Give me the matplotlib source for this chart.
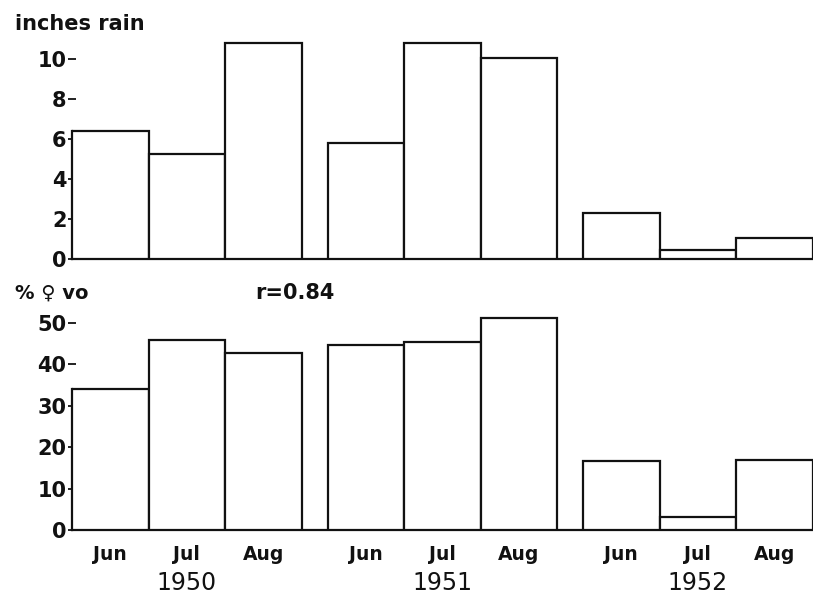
import matplotlib
matplotlib.use("Agg")
from matplotlib import pyplot as plt
import numpy as np

years = ["1950", "1951", "1952"]
months = ["Jun", "Jul", "Aug"]
rain = [6.4, 5.25, 10.8, 5.8, 10.8, 10.05, 2.3, 0.45, 1.05]
pct_female = [34, 46, 42.7, 44.7, 45.4, 51.2, 16.7, 3.1, 16.9]

ink = "#111111"
plt.rcParams["font.family"] = ["DejaVu Sans"]
plt.rcParams["text.color"] = ink

fig = plt.figure(figsize=(8.13, 5.98), dpi=100)

# bar layout in pixel-like units: 76.5 per bar, 255.5 per year group
bw = 76.5
gstep = 255.5
lefts = np.array([g * gstep + i * bw for g in range(len(years)) for i in range(len(months))])
centers = lefts + bw / 2

ax1 = fig.add_axes([72 / 813, 1 - 259 / 598, 741 / 813, 220 / 598])
ax2 = fig.add_axes([72 / 813, 1 - 530 / 598, 741 / 813, 215.3 / 598])

for ax, vals, top, ticks in [(ax1, rain, 11, [0, 2, 4, 6, 8, 10]),
                             (ax2, pct_female, 52, [0, 10, 20, 30, 40, 50])]:
    ax.bar(lefts, vals, width=bw, align="edge", color="white",
           edgecolor=ink, linewidth=1.6, zorder=3)
    ax.set_xlim(0, 741)
    ax.set_ylim(0, top)
    ax.set_yticks(ticks)
    ax.tick_params(axis="y", direction="inout", length=6, width=1.3,
                   pad=1, labelsize=15, colors=ink)
    for lab in ax.get_yticklabels():
        lab.set_fontweight("bold")
    for s in ["top", "right"]:
        ax.spines[s].set_visible(False)
    ax.spines["left"].set_bounds(0, vals[0])
    ax.spines["left"].set_linewidth(1.6)
    ax.spines["bottom"].set_linewidth(1.6)
    ax.spines["left"].set_color(ink)
    ax.spines["bottom"].set_color(ink)

ax1.set_xticks([])
ax2.set_xticks(centers)
ax2.set_xticklabels(months * len(years), fontsize=13.5, fontweight="bold")
ax2.tick_params(axis="x", length=0, pad=11, colors=ink)

for g, y in enumerate(years):
    ax2.text(centers[g * 3 + 1], -0.247, y, transform=ax2.get_xaxis_transform(),
             ha="center", va="center", fontsize=17)

fig.text(15 / 813, 1 - 24 / 598, "inches rain", fontsize=15, fontweight="bold",
         va="center", ha="left")
fig.text(15 / 813, 1 - 293 / 598, "% \u2640 vo", fontsize=14, fontweight="bold",
         va="center", ha="left")
fig.text(255 / 813, 1 - 293 / 598, "r=0.84", fontsize=15, fontweight="bold",
         va="center", ha="left")

fig.savefig("out.png", dpi=100)
